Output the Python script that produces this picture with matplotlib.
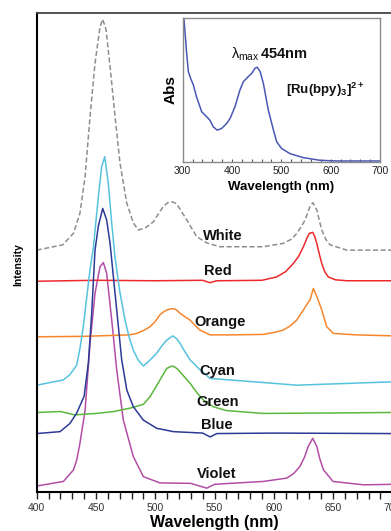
import matplotlib
matplotlib.use("Agg")
import matplotlib.pyplot as plt
from matplotlib.ticker import MultipleLocator

plt.rcParams['font.family'] = ['Liberation Sans', 'DejaVu Sans']
plt.rcParams['mathtext.fontset'] = 'custom'
plt.rcParams['mathtext.rm'] = 'Liberation Sans'
plt.rcParams['mathtext.bf'] = 'Liberation Sans:bold'
plt.rcParams['mathtext.it'] = 'Liberation Sans:italic'

# ---------------- data ----------------
white_wl = [400, 410, 422, 431, 436.5, 440.8, 445, 449.2, 453.4, 455.7, 458.5, 461.9, 466.1, 470.3,
            476, 481.5, 485.7, 491.4, 498.4, 503, 506.8, 510.5, 513.9, 517, 519.5, 526.6, 535, 543.5,
            554.7, 563, 591, 608, 615, 619.4, 623, 626.4, 630.6, 632.9, 636.3, 638.5, 640.5, 644,
            647.5, 661.6, 700]
white_y = [50.5, 51.0, 51.6, 54.0, 58.2, 65.8, 78.4, 89.5, 97.1, 98.7, 96.5, 88.8, 78.4, 68.6,
           60.3, 56.2, 54.7, 55.1, 56.4, 58.2, 59.6, 60.4, 60.6, 60.3, 59.6, 56.8, 53.3, 52.0,
           51.2, 51.2, 51.2, 51.9, 52.8, 54.0, 55.3, 56.8, 59.6, 60.4, 58.9, 56.6, 54.7, 52.7,
           51.6, 50.5, 50.5]

red_wl = [400, 450, 500, 540, 546, 552, 590, 602.5, 610, 616.5, 621, 625, 628, 630, 632.9, 634.5,
          636.3, 638.5, 640.5, 643, 646, 652, 661.6, 700]
red_y = [44.0, 44.2, 44.1, 44.2, 43.7, 44.1, 44.2, 44.9, 46.0, 47.7, 49.2, 51.2, 53.0, 54.0, 54.2, 53.4,
         51.9, 49.6, 47.7, 46.0, 44.9, 44.3, 44.1, 44.1]

orange_wl = [400, 440, 478, 484.4, 490, 495.6, 500, 504, 507.5, 511, 515.3, 518, 521, 525, 529.4,
             533.5, 537.8, 546.3, 563, 591, 600, 608, 614, 619.4, 625, 628, 630.6, 633.4, 637,
             640.5, 644.7, 650.3, 670, 700]
orange_y = [32.4, 32.5, 32.8, 33.1, 33.7, 34.5, 35.6, 37.0, 37.7, 38.1, 38.3, 38.0, 37.3, 36.6, 35.9,
            34.8, 33.8, 32.8, 32.8, 32.9, 33.3, 33.8, 34.7, 35.9, 38.0, 39.2, 40.1, 42.5, 40.4,
            38.0, 34.5, 33.1, 32.8, 32.6]

cyan_wl = [400, 422.5, 428, 433.8, 436.5, 439.3, 445, 447.8, 452, 454.8, 457.4, 460.4, 463.3, 466,
           470, 474.5, 478, 481.5, 485.5, 490, 495, 501.3, 505.5, 509.7, 514.8, 518, 521, 525, 529.4,
           537.8, 546.3, 563, 619.4, 700]
cyan_y = [22.3, 23.4, 24.5, 26.5, 30.0, 34.5, 46.5, 51.0, 61.6, 67.9, 70.0, 64.4, 56.1, 49.1,
          42.0, 35.9, 32.3, 29.6, 27.6, 26.3, 27.4, 29.0, 30.5, 31.7, 32.6, 32.0, 31.0, 29.3, 27.6,
          25.5, 23.7, 23.4, 22.3, 23.0]

green_wl = [400, 420, 432, 450, 465, 478.7, 490, 495.6, 500, 504, 509.7, 514, 516.5, 519.5, 524,
            529.4, 535, 540.6, 549, 560, 591, 650, 700]
green_y = [16.6, 16.8, 16.1, 16.4, 16.8, 17.5, 18.3, 19.9, 21.7, 23.4, 25.8, 26.3, 26.1, 25.5, 24.2,
           22.7, 20.8, 19.2, 17.8, 17.0, 16.4, 16.5, 16.6]

blue_wl = [400, 419.7, 428, 433.8, 440, 443.6, 446.4, 447.8, 449.2, 452, 455.7, 459, 461.9, 463.3,
           467.5, 471.7, 476, 481.5, 490, 501.3, 515.3, 540, 546.3, 552, 600, 700]
blue_y = [12.2, 12.6, 14.3, 16.5, 20.0, 27.0, 37.3, 44.0, 50.5, 55.5, 59.2, 56.8, 51.9, 48.4,
          38.0, 27.6, 21.3, 17.8, 15.0, 13.3, 12.6, 12.3, 11.5, 12.2, 12.3, 12.2]

violet_wl = [400, 422.5, 431, 433.8, 436.5, 440.8, 445, 449.2, 453.4, 456.2, 459, 463.3, 467.5,
             473.1, 481.5, 490, 504, 530, 543.5, 550, 563, 591, 611, 617, 622, 626, 629, 632.9,
             636.3, 639, 642, 650, 675.6, 700]
violet_y = [1.25, 2.2, 4.6, 6.7, 10.2, 17.0, 31.0, 41.5, 47.0, 47.9, 45.7, 35.9, 25.5,
            15.0, 7.4, 3.2, 1.9, 1.8, 0.8, 1.6, 1.8, 2.2, 2.9, 3.9, 5.3, 7.3, 9.5, 11.2,
            9.5, 6.8, 4.6, 2.2, 1.5, 1.6]

abs_wl = [300, 302.7, 308, 311.5, 316, 321.6, 328, 338.5, 348.6, 355, 362, 370, 379, 389, 396,
          406, 416, 423, 433, 440, 446.6, 451, 457, 463.5, 473.6, 484, 490.5, 500.7, 517.6,
          544.6, 578, 612, 700]
abs_y = [1.05, 0.988, 0.756, 0.628, 0.581, 0.535, 0.453, 0.349, 0.314, 0.291, 0.244, 0.221,
         0.233, 0.267, 0.302, 0.384, 0.500, 0.558, 0.593, 0.616, 0.651, 0.658, 0.628, 0.547,
         0.360, 0.221, 0.140, 0.093, 0.058, 0.030, 0.012, 0.007, 0.007]

series_names = ['White', 'Red', 'Orange', 'Cyan', 'Green', 'Blue', 'Violet']
label_pos = {'White': (557, 53.4), 'Red': (553, 46.1), 'Orange': (555, 35.4),
             'Cyan': (552, 25.3), 'Green': (553, 18.8), 'Blue': (552, 13.9), 'Violet': (552, 3.7)}
x_ticks = [400, 450, 500, 550, 600, 650, 700]
inset_ticks = [300, 400, 500, 600, 700]

# ---------------- figure ----------------
fig = plt.figure(figsize=(3.91, 5.31), dpi=100)
ax = fig.add_axes([36.7 / 391, 39 / 531, 355.6 / 391, 479 / 531])

lw = 1.1
ax.plot(violet_wl, violet_y, color='#b24ea6', lw=lw)
ax.plot(green_wl, green_y, color='#5ab83c', lw=lw)
ax.plot(orange_wl, orange_y, color='#f5862c', lw=lw)
ax.plot(red_wl, red_y, color='#ec2a2c', lw=lw)
ax.plot(cyan_wl, cyan_y, color='#56c3de', lw=lw)
ax.plot(blue_wl, blue_y, color='#2d3a96', lw=lw)
ax.plot(white_wl, white_y, color='#8e8e8e', lw=lw, linestyle=(0, (3.3, 1.7)))

for name in series_names:
    x, y = label_pos[name]
    ax.text(x, y, name, fontsize=10.5, fontweight='bold', ha='center', va='center', color='#111111')

ax.set_xlim(400, 700)
ax.set_ylim(0, 100)
ax.set_yticks([])
ax.set_xticks(x_ticks)
ax.xaxis.set_minor_locator(MultipleLocator(10))
ax.tick_params(axis='x', which='both', direction='out', length=5, width=1, colors='#222222',
               labelsize=7.5, pad=3)
for lab in ax.get_xticklabels():
    lab.set_color('#333333')
ax.spines['left'].set_linewidth(1.5)
ax.spines['bottom'].set_linewidth(1.5)
ax.spines['top'].set_linewidth(1.3)
ax.spines['top'].set_color('#444444')
ax.spines['right'].set_color('#444444')
ax.set_xlabel('Wavelength (nm)', fontsize=11.5, fontweight='bold', labelpad=1)
fig.text(18.3 / 391, 1 - 265 / 531, 'Intensity', rotation=90, fontsize=7.5, fontweight='bold',
         ha='center', va='center')

# ---------------- inset ----------------
ins = fig.add_axes([182.7 / 391, (531 - 162) / 531, 197.3 / 391, 144 / 531])
ins.plot(abs_wl, abs_y, color='#4a57b5', lw=1.1)
ins.set_xlim(300, 700)
ins.set_ylim(0, 1)
ins.set_yticks([])
ins.set_xticks(inset_ticks)
ins.xaxis.set_minor_locator(MultipleLocator(20))
ins.tick_params(axis='x', which='both', direction='in', length=2.5, width=0.8, colors='#555555',
                labelsize=7.5, pad=3)
for lab in ins.get_xticklabels():
    lab.set_color('#222222')
for sp in ins.spines.values():
    sp.set_color('#8a8a8a')
    sp.set_linewidth(1.0)
ins.set_xlabel('Wavelength (nm)', fontsize=9.5, fontweight='bold', labelpad=3.5)
ins.set_ylabel('Abs', fontsize=11, fontweight='bold', labelpad=4)
ins.text(0.44, 0.75, r'$\mathrm{\lambda}_{\mathrm{max}}\,\mathbf{454nm}$', transform=ins.transAxes,
         fontsize=10.5, ha='center', va='center', color='#111111')
ins.text(0.72, 0.5, r'$\mathbf{[Ru(bpy)}_{\mathbf{3}}\mathbf{]}^{\mathbf{2+}}$', transform=ins.transAxes,
         fontsize=9.5, ha='center', va='center', color='#111111')

fig.savefig('out.png', dpi=100)
